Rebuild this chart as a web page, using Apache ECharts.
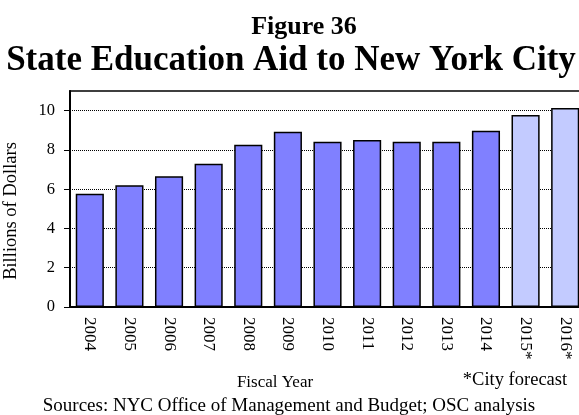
<!DOCTYPE html>
<html><head><meta charset="utf-8">
<script src="https://cdn.jsdelivr.net/npm/echarts@6/dist/echarts.min.js"></script>
<style>html,body{margin:0;padding:0;background:#fff}#c{width:579px;height:415px}</style>
</head><body><div id="c"></div>
<script>
const categories = ["2004","2005","2006","2007","2008","2009","2010","2011","2012","2013","2014","2015*","2016*"];
const values = [5.77,6.20,6.66,7.29,8.26,8.93,8.42,8.51,8.42,8.42,8.97,9.78,10.14];
const forecast = [false,false,false,false,false,false,false,false,false,false,false,true,true];
const yTicks = [0,2,4,6,8,10];
const F = "'Liberation Serif','Times New Roman',serif";
const chart = echarts.init(document.getElementById('c'));
chart.setOption({
  animation:false,
  textStyle:{fontFamily:F},
  graphic:[
    {type:'text',x:304,y:27,style:{text:'Figure 36',font:'bold 26px '+F,fill:'#000',align:'center',verticalAlign:'middle'}},
    {type:'text',x:291,y:61,style:{text:'State Education Aid to New York City',font:'bold 35px '+F,fill:'#000',align:'center',verticalAlign:'middle'}},
    {type:'text',x:275,y:383,style:{text:'Fiscal Year',font:'17px '+F,fill:'#000',align:'center',verticalAlign:'middle'}},
    {type:'text',x:515,y:380,style:{text:'*City forecast',font:'18.5px '+F,fill:'#000',align:'center',verticalAlign:'middle'}},
    {type:'text',x:289,y:406,style:{text:'Sources: NYC Office of Management and Budget; OSC analysis',font:'19px '+F,fill:'#000',align:'center',verticalAlign:'middle'}},
    {type:'text',x:11,y:211,rotation:Math.PI/2,style:{text:'Billions of Dollars',font:'18.5px '+F,fill:'#000',align:'center',verticalAlign:'middle'}}
  ],
  grid:{left:70,right:-6,top:91,bottom:108,show:true,borderColor:'#000',borderWidth:1.5,backgroundColor:'transparent',outerBoundsMode:'none',containLabel:false},
  xAxis:{type:'category',data:categories,
    axisLine:{lineStyle:{color:'#000',width:2}},
    axisTick:{alignWithLabel:true,length:5,lineStyle:{color:'#000'}},
    axisLabel:{rotate:-90,color:'#000',fontSize:17,fontFamily:F,margin:10}},
  yAxis:{type:'value',min:0,max:11,interval:2,
    axisLine:{show:true,lineStyle:{color:'#000',width:2}},
    axisTick:{show:true,length:6,lineStyle:{color:'#000'},customValues:yTicks},
    axisLabel:{color:'#000',fontSize:16.5,fontFamily:F,margin:15,customValues:yTicks},
    splitLine:{lineStyle:{color:'#000',type:'dotted',width:1}}},
  series:[{type:'bar',barCategoryGap:'29%',
    data:values.map((v,i)=>({value:v,itemStyle:{color:forecast[i]?'#C3CBFF':'#8080FF',borderColor:'#000',borderWidth:1.5}}))}]
});
</script></body></html>
